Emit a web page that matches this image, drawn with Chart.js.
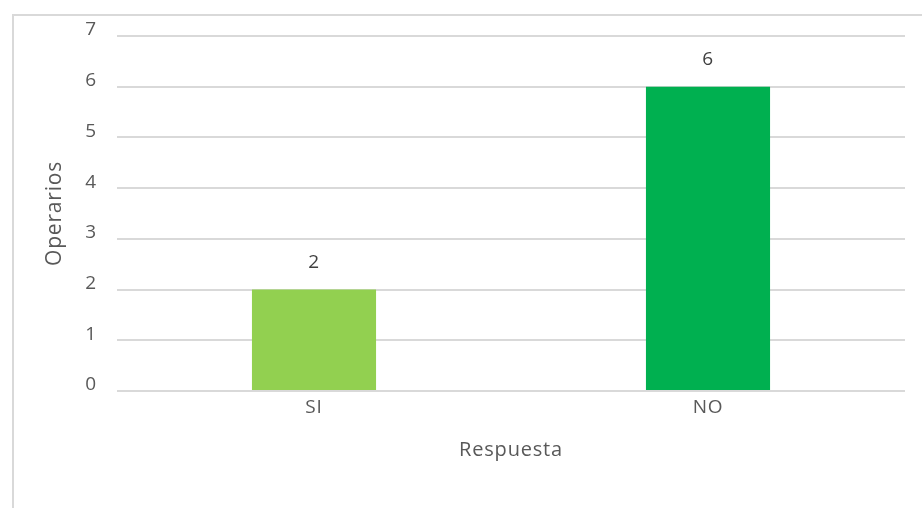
<!DOCTYPE html>
<html><head><meta charset="utf-8">
<script src="https://cdn.jsdelivr.net/npm/chart.js@4"></script>
<style>html,body{margin:0;padding:0;background:#fff;}#wrap{width:922px;height:508px;position:relative;}</style>
</head><body><div id="wrap"><canvas id="c" width="922" height="508"></canvas></div>
<script>
const categories = ["SI", "NO"];
const operarios = [2, 6];
const barColors = ["#92d050", "#00b050"];
const yTicks = [0, 1, 2, 3, 4, 5, 6, 7];

const FONT = "'Open Sans', sans-serif";

const framePlugin = {
  id: 'frame',
  beforeUpdate(chart) { chart.ctx.letterSpacing = '0.8px'; },
  beforeDraw(chart) {
    const ctx = chart.ctx;
    ctx.letterSpacing = '0.8px';
    ctx.save();
    ctx.fillStyle = '#fff';
    ctx.fillRect(0, 0, chart.width, chart.height);
    ctx.strokeStyle = '#d9d9d9';
    ctx.lineWidth = 2;
    ctx.strokeRect(13, 15, 1200, 1200);
    ctx.restore();
  }
};

const labelPlugin = {
  id: 'valueLabels',
  afterDatasetsDraw(chart) {
    const ctx = chart.ctx;
    const meta = chart.getDatasetMeta(0);
    ctx.save();
    ctx.fillStyle = '#404040';
    ctx.font = "19px " + FONT;
    ctx.textAlign = 'center';
    ctx.textBaseline = 'middle';
    meta.data.forEach((bar, i) => {
      ctx.fillText(String(operarios[i]), bar.x, bar.y - 27);
    });
    ctx.restore();
  }
};

new Chart(document.getElementById('c'), {
  type: 'bar',
  data: {
    labels: categories,
    datasets: [{
      data: operarios,
      backgroundColor: barColors,
      borderWidth: 0,
      categoryPercentage: 1,
      barPercentage: 0.315
    }]
  },
  options: {
    responsive: false,
    animation: false,
    layout: { padding: { left: 0, right: 17, top: 36, bottom: 0 } },
    plugins: { legend: { display: false }, tooltip: { enabled: false } },
    scales: {
      x: {
        grid: { display: false, drawTicks: false },
        border: { display: false },
        ticks: { color: '#595959', font: { family: FONT, size: 19 }, padding: 5 },
        title: { display: true, text: 'Respuesta', color: '#595959', font: { family: FONT, size: 20 }, padding: { top: 0, bottom: 46 } },
        afterFit(scale) { scale.height = 508 - 391; }
      },
      y: {
        min: 0, max: 7,
        afterBuildTicks(scale) { scale.ticks = yTicks.map(v => ({ value: v })); },
        grid: { color: '#d9d9d9', lineWidth: 2, drawTicks: false },
        border: { display: false },
        ticks: { color: '#595959', font: { family: FONT, size: 19 }, padding: 20, labelOffset: -6 },
        title: { display: true, text: 'Operarios', color: '#595959', font: { family: FONT, size: 21 }, padding: { top: 42, bottom: 0 } },
        afterFit(scale) { scale.width = 117; }
      }
    }
  },
  plugins: [framePlugin, labelPlugin]
});
</script></body></html>
